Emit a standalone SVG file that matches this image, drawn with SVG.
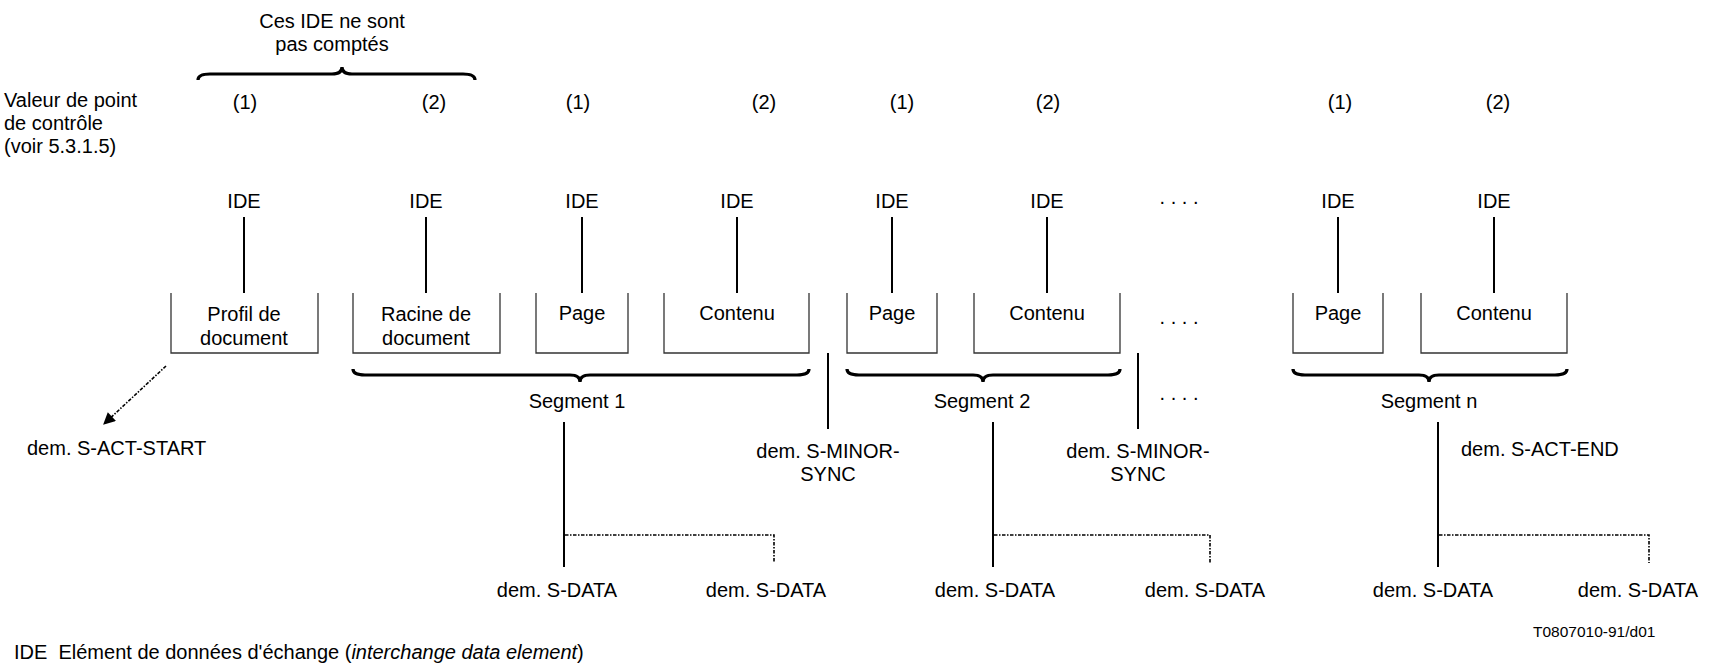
<svg xmlns="http://www.w3.org/2000/svg" width="1719" height="668" viewBox="0 0 1719 668">
<style>
text{font-family:"Liberation Sans",Arial,sans-serif;font-size:20px;fill:#000}
.m{text-anchor:middle}
.box{fill:none;stroke:#333;stroke-width:1.3}
.ln{stroke:#000;stroke-width:2;fill:none}
.br{stroke:#000;stroke-width:3.2;fill:none}
.dt{stroke:#000;stroke-width:1.6;fill:none;stroke-dasharray:3.5 1.5 1.5 1.5}
.small{font-size:15.5px}
</style>
<defs>
<marker id="ah" viewBox="0 0 10 10" refX="9" refY="5" markerWidth="15" markerHeight="12" orient="auto" markerUnits="userSpaceOnUse">
<path d="M0,0 L10,5 L0,10 z" fill="#000"/>
</marker>
</defs>
<rect width="1719" height="668" fill="#fff"/>
<g id="header">
<text class="m" x="332" y="28">Ces IDE ne sont</text>
<text class="m" x="332" y="51">pas comptés</text>
<path class="br" d="M198,80 Q198,74 210,74 L332,74 Q342,74 342,67 Q342,74 352,74 L463,74 Q475,74 475,80"/>
<text x="4" y="107">Valeur de point</text>
<text x="4" y="130">de contrôle</text>
<text x="4" y="153">(voir 5.3.1.5)</text>
</g>
<g id="checkpoints">
<text class="m" x="245" y="109">(1)</text>
<text class="m" x="434" y="109">(2)</text>
<text class="m" x="578" y="109">(1)</text>
<text class="m" x="764" y="109">(2)</text>
<text class="m" x="902" y="109">(1)</text>
<text class="m" x="1048" y="109">(2)</text>
<text class="m" x="1340" y="109">(1)</text>
<text class="m" x="1498" y="109">(2)</text>
</g>
<g id="ide-labels">
<text class="m" x="244" y="208">IDE</text>
<text class="m" x="426" y="208">IDE</text>
<text class="m" x="582" y="208">IDE</text>
<text class="m" x="737" y="208">IDE</text>
<text class="m" x="892" y="208">IDE</text>
<text class="m" x="1047" y="208">IDE</text>
<text class="m" x="1338" y="208">IDE</text>
<text class="m" x="1494" y="208">IDE</text>
<text class="m" x="1179" y="204">. . . .</text>
</g>
<g id="node-profil">
<path class="box" d="M171,293 V353 H318 V293"/>
<text class="m" x="244" y="321">Profil de</text>
<text class="m" x="244" y="345">document</text>
</g>
<g id="node-racine">
<path class="box" d="M353,293 V353 H500 V293"/>
<text class="m" x="426" y="321">Racine de</text>
<text class="m" x="426" y="345">document</text>
</g>
<g id="node-page1">
<path class="box" d="M536,293 V353 H628 V293"/>
<text class="m" x="582" y="320">Page</text>
</g>
<g id="node-contenu1">
<path class="box" d="M664,293 V353 H809 V293"/>
<text class="m" x="737" y="320">Contenu</text>
</g>
<g id="node-page2">
<path class="box" d="M847,293 V353 H937 V293"/>
<text class="m" x="892" y="320">Page</text>
</g>
<g id="node-contenu2">
<path class="box" d="M974,293 V353 H1120 V293"/>
<text class="m" x="1047" y="320">Contenu</text>
</g>
<text class="m" x="1179" y="324">. . . .</text>
<g id="node-pagen">
<path class="box" d="M1293,293 V353 H1383 V293"/>
<text class="m" x="1338" y="320">Page</text>
</g>
<g id="node-contenun">
<path class="box" d="M1421,293 V353 H1567 V293"/>
<text class="m" x="1494" y="320">Contenu</text>
</g>
<g id="segments">
<path class="br" d="M353,369 Q353,375 365,375 L570,375 Q580,375 580,382 Q580,375 590,375 L797,375 Q809,375 809,369"/>
<text class="m" x="577" y="408">Segment 1</text>
<path class="br" d="M847,369 Q847,375 859,375 L973,375 Q983,375 983,382 Q983,375 993,375 L1108,375 Q1120,375 1120,369"/>
<text class="m" x="982" y="408">Segment 2</text>
<path class="br" d="M1293,369 Q1293,375 1305,375 L1419,375 Q1429,375 1429,382 Q1429,375 1439,375 L1555,375 Q1567,375 1567,369"/>
<text class="m" x="1429" y="408">Segment n</text>
<text class="m" x="1179" y="400">. . . .</text>
</g>
<g id="requests">
<text x="27" y="455">dem. S-ACT-START</text>
<text class="m" x="828" y="458">dem. S-MINOR-</text>
<text class="m" x="828" y="481">SYNC</text>
<text class="m" x="1138" y="458">dem. S-MINOR-</text>
<text class="m" x="1138" y="481">SYNC</text>
<text x="1461" y="456">dem. S-ACT-END</text>
<text class="m" x="557" y="597">dem. S-DATA</text>
<text class="m" x="766" y="597">dem. S-DATA</text>
<text class="m" x="995" y="597">dem. S-DATA</text>
<text class="m" x="1205" y="597">dem. S-DATA</text>
<text class="m" x="1433" y="597">dem. S-DATA</text>
<text class="m" x="1638" y="597">dem. S-DATA</text>
</g>
<g id="connectors">
<line class="ln" x1="244" y1="217" x2="244" y2="293"/>
<line class="ln" x1="426" y1="217" x2="426" y2="293"/>
<line class="ln" x1="582" y1="217" x2="582" y2="293"/>
<line class="ln" x1="737" y1="217" x2="737" y2="293"/>
<line class="ln" x1="892" y1="217" x2="892" y2="293"/>
<line class="ln" x1="1047" y1="217" x2="1047" y2="293"/>
<line class="ln" x1="1338" y1="217" x2="1338" y2="293"/>
<line class="ln" x1="1494" y1="217" x2="1494" y2="293"/>
<line class="ln" x1="828" y1="353" x2="828" y2="429"/>
<line class="ln" x1="1138" y1="353" x2="1138" y2="429"/>
<line class="ln" x1="564" y1="422" x2="564" y2="567"/>
<line class="ln" x1="993" y1="422" x2="993" y2="567"/>
<line class="ln" x1="1438" y1="422" x2="1438" y2="567"/>
<path class="dt" d="M565,535 H774 V563"/>
<path class="dt" d="M994,535 H1210 V563"/>
<path class="dt" d="M1439,535 H1649 V563"/>
<path class="dt" d="M166,366 L104,424" marker-end="url(#ah)"/>
</g>
<g id="footer">
<text class="small" x="1533" y="637">T0807010-91/d01</text>
<text x="14" y="659" xml:space="preserve">IDE  Elément de données d'échange (<tspan font-style="italic">interchange data element</tspan>)</text>
</g>
</svg>
